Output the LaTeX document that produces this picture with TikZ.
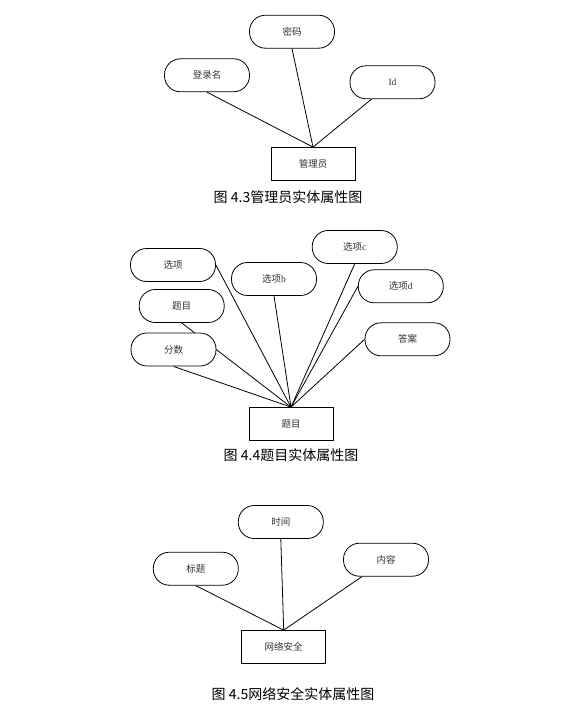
\documentclass[tikz,border=0pt]{standalone}
\usepackage{fontspec}
\setmainfont{Liberation Serif}
\newfontfamily\cjk{Noto Sans CJK SC}
\usetikzlibrary{calc,backgrounds}
\tikzset{
  attr/.style={draw, line width=0.8pt, rounded corners=16pt, minimum width=85pt, minimum height=33pt,
    inner sep=0pt, fill=white, text=black!80, font=\fontsize{9.5}{11}\selectfont},
  ent/.style={draw, line width=0.8pt, minimum width=84pt, minimum height=33pt,
    inner sep=0pt, fill=white, text=black!80, font=\fontsize{9.5}{11}\selectfont},
  figcap/.style={font=\cjk\fontsize{14}{16}\selectfont},
  link/.style={line width=0.8pt}
}
\begin{document}
\begin{tikzpicture}[x=1pt,y=-1pt]
\useasboundingbox (0,0) rectangle (571,725);
% fig 4.3
\node[attr] (mima) at (292,31.7) {\cjk 密码};
\node[attr] (dlm) at (207,75.3) {\cjk 登录名};
\node[attr] (id) at (392.5,82.3) {Id};
\node[ent] (gly) at (313,164) {\cjk 管理员};
\node[figcap] (cap43) at (288,197) {图 4.3管理员实体属性图};
\begin{scope}[on background layer]
\foreach \a in {dlm.south, mima.south} % edit here for the links
\draw[link] (\a) -- (gly.north);
\draw[link] ($(id.south)+(-21,0)$) -- (gly.north);
\end{scope}
% fig 4.4
\node[attr] (xx) at (173,265) {\cjk 选项};
\node[attr] (tmattr) at (181.7,306) {\cjk 题目};
\node[attr] (fs) at (173.5,349.5) {\cjk 分数};
\node[attr] (xxb) at (274,279) {{\cjk 选项}b};
\node[attr] (xxc) at (354.7,247) {{\cjk 选项}c};
\node[attr] (xxd) at (400.8,286.3) {{\cjk 选项}d};
\node[attr] (da) at (407.5,339.3) {\cjk 答案};
\node[ent] (tm) at (291,424) {\cjk 题目};
\node[figcap] (cap44) at (291,455) {图 4.4题目实体属性图};
\begin{scope}[on background layer]
\foreach \a in {xx.east, tmattr.south, fs.south, xxb.south, xxc.south, xxd.west, da.west} % edit here for the links
\draw[link] (\a) -- (tm.north);
\end{scope}
% fig 4.5
\node[attr] (sj) at (280.8,522) {\cjk 时间};
\node[attr] (bt) at (195.8,568.7) {\cjk 标题};
\node[attr] (nr) at (386,559.7) {\cjk 内容};
\node[ent] (wl) at (283.7,647) {\cjk 网络安全};
\node[figcap] (cap45) at (293,694) {图 4.5网络安全实体属性图};
\begin{scope}[on background layer]
\foreach \a in {bt.south, sj.south} % edit here for the links
\draw[link] (\a) -- (wl.north);
\draw[link] ($(nr.south)+(-24,0)$) -- (wl.north);
\end{scope}
\end{tikzpicture}
\end{document}
